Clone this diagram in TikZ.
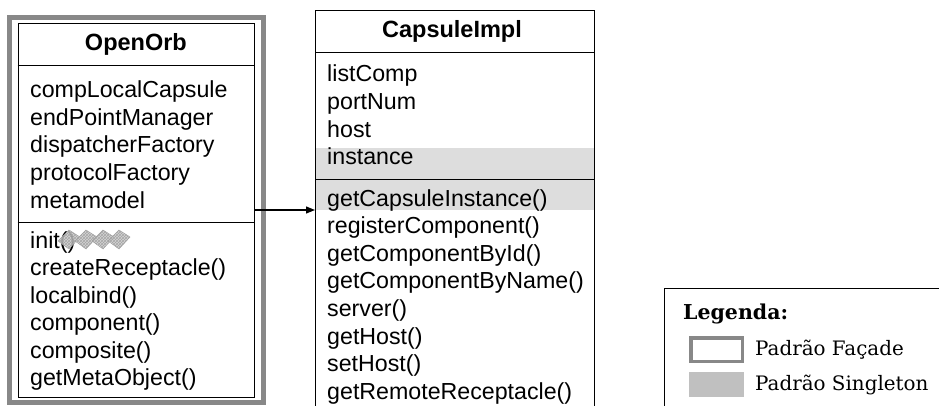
\documentclass[tikz,border=0pt]{standalone}
\usepackage{fontspec}
\newfontfamily\umlfont{Liberation Sans}
\newfontfamily\legfont{DejaVu Serif}
\usetikzlibrary{arrows.meta,patterns}
\definecolor{framegray}{RGB}{136,136,136}
\definecolor{rowgray}{RGB}{221,221,221}
\definecolor{singlegray}{RGB}{192,192,192}
\tikzset{
  classbox/.style={draw=black, line width=1.2pt, rectangle, inner sep=0pt, anchor=north west},
  facadeframe/.style={draw=framegray, line width=5pt, rectangle, inner sep=0pt},
  member/.style={anchor=base west, inner sep=0pt, font=\umlfont\fontsize{23.2}{27}\selectfont},
  classtitle/.style={anchor=center, inner sep=0pt, font=\umlfont\bfseries\fontsize{23.5}{27}\selectfont},
  legtext/.style={anchor=base west, inner sep=0pt, font=\legfont\fontsize{19.9}{22}\selectfont},
  legtitle/.style={anchor=base west, inner sep=0pt, font=\legfont\bfseries\fontsize{20.5}{22}\selectfont},
  divider/.style={draw=black, line width=1.2pt},
  scribblefill/.style={fill=gray!45, fill opacity=0.75},
  scribbleline/.style={draw=gray!75, line width=0.4pt, pattern=crosshatch, pattern color=gray!70},
  link/.style={draw=black, line width=1.2pt, -{Triangle[length=9pt,width=7pt]}},
}
\begin{document}
\begin{tikzpicture}[x=1pt,y=-1pt]
\useasboundingbox (0,0) rectangle (939,406);
\clip (0,0) rectangle (939,406);

% ---- OpenOrb (facade) ----
\node[facadeframe, minimum width=253.5pt, minimum height=384.5pt] (orbframe) at (136.25,209.75) {};
\node[classbox, minimum width=236.3pt, minimum height=374.3pt] (orb) at (17.7,22.7) {};
\draw[divider] (17.7,65.7) -- (254,65.7);
\draw[divider] (17.7,222.7) -- (254,222.7);
\node[classtitle] (orbtitle) at (135.9,44.2) {OpenOrb};
\node[member] (oa1) at (30,98)    {compLocalCapsule};
\node[member] (oa2) at (30,125.5) {endPointManager};
\node[member] (oa3) at (30,153)   {dispatcherFactory};
\node[member] (oa4) at (30,180.5) {protocolFactory};
\node[member] (oa5) at (30,208)   {metamodel};
\node[member] (om1) at (30,248)   {init()};
\node[member] (om2) at (30,275.5) {createReceptacle()};
\node[member] (om3) at (30,303)   {localbind()};
\node[member] (om4) at (30,330.5) {component()};
\node[member] (om5) at (30,358)   {composite()};
\node[member] (om6) at (30,385.5) {getMetaObject()};
% hatched smudge over the parentheses of init()
\foreach \cx in {69,86,103,119} {
  \path[scribblefill] (\cx-11,241) -- (\cx,230) -- (\cx+11,237) -- (\cx,249) -- cycle;
  \path[scribbleline] (\cx-11,241) -- (\cx,230) -- (\cx+11,237) -- (\cx,249) -- cycle;
}

% ---- CapsuleImpl (singleton) ----
\fill[rowgray] (315,148) rectangle (594,210);
\node[classbox, minimum width=279pt, minimum height=420pt] (cap) at (315,10) {};
\draw[divider] (315,52.7) -- (594,52.7);
\draw[divider] (315,179.3) -- (594,179.3);
\node[classtitle] (captitle) at (452,31.3) {CapsuleImpl};
\node[member] (ca1) at (327,82)    {listComp};
\node[member] (ca2) at (327,109.7) {portNum};
\node[member] (ca3) at (327,137.3) {host};
\node[member] (ca4) at (327,165)   {instance};
\node[member] (cm1) at (327,206)   {getCapsuleInstance()};
\node[member] (cm2) at (327,233.6) {registerComponent()};
\node[member] (cm3) at (327,261.2) {getComponentById()};
\node[member] (cm4) at (327,288.8) {getComponentByName()};
\node[member] (cm5) at (327,316.4) {server()};
\node[member] (cm6) at (327,344)   {getHost()};
\node[member] (cm7) at (327,371.6) {setHost()};
\node[member] (cm8) at (327,399.2) {getRemoteReceptacle()};

% ---- association ----
\coordinate (linkrow) at (0,210);
\draw[link] (orb.east |- linkrow) -- (cap.west |- linkrow);

% ---- legend ----
\node[classbox, minimum width=300pt, minimum height=150pt] (legend) at (664,288) {};
\node[legtitle] (legtitle) at (683,319.5) {Legenda:};
\node[draw=framegray, line width=3.5pt, minimum width=51.5pt, minimum height=23.5pt, inner sep=0pt] (facadekey) at (716.5,349.5) {};
\node[legtext] (facadetext) at (755,355.5) {Padrão Façade};
\node[fill=singlegray, minimum width=55pt, minimum height=25pt, inner sep=0pt] (singletonkey) at (716.5,384.5) {};
\node[legtext] (singletontext) at (755,390.5) {Padrão Singleton};
\end{tikzpicture}
\end{document}
